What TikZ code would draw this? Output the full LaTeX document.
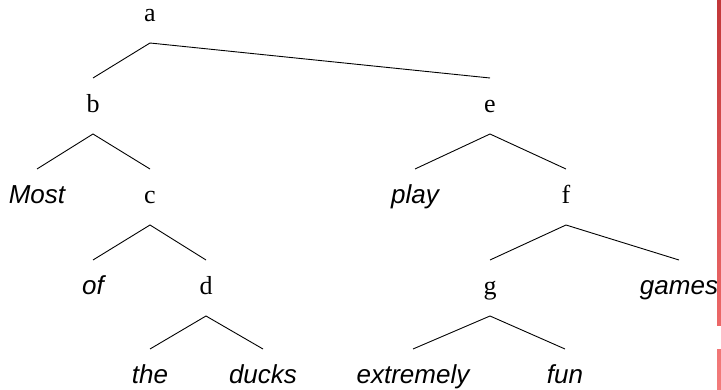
\documentclass[tikz,border=0pt]{standalone}
\usepackage{fontspec}
\setmainfont{Liberation Serif}
\newfontfamily\leaffont{Liberation Sans}
\usetikzlibrary{calc}
\tikzset{
  inner/.style={inner sep=0pt, anchor=base, font=\fontsize{26}{30}\selectfont},
  leaf/.style={inner sep=0pt, anchor=base, font=\fontsize{26}{30}\selectfont\leaffont\itshape},
  branch/.style={line width=0.9pt, black}
}
\definecolor{bartop}{RGB}{194,55,57}
\definecolor{barmid}{RGB}{236,104,104}
\definecolor{barlow}{RGB}{241,118,118}
\definecolor{barend}{RGB}{243,124,124}
\begin{document}
\begin{tikzpicture}[x=1pt,y=-1pt]
\useasboundingbox[fill=white] (0,0) rectangle (721,390);
% internal nodes
\node[inner] (a) at (150,22) {a};
\node[inner] (b) at (93,113) {b};
\node[inner] (e) at (490,113) {e};
\node[inner] (c) at (150,204) {c};
\node[inner] (f) at (566,204) {f};
\node[inner] (d) at (206,295) {d};
\node[inner] (g) at (490,295) {g};
% leaves
\node[leaf] (most) at (37,204) {Most};
\node[leaf] (play) at (415,204) {play};
\node[leaf] (of) at (93,295) {of};
\node[leaf] (games) at (679,295) {games};
\node[leaf] (the) at (150,384) {the};
\node[leaf] (ducks) at (263,384) {ducks};
\node[leaf] (extremely) at (413,384) {extremely};
\node[leaf] (fun) at (565,384) {fun};
% branches
\foreach \p/\l/\r in {a/b/e, b/most/c, c/of/d, d/the/ducks, e/play/f, f/g/games, g/extremely/fun}{
  \draw[branch] ($(\l.base)+(0,-35)$) -- ($(\p.base)+(0,21)$) -- ($(\r.base)+(0,-35)$);
}
% red bar at the right edge
\shade[top color=bartop, bottom color=barmid] (717,0) rectangle (721,326);
\shade[top color=barlow, bottom color=barend] (717,350) rectangle (721,390);
\end{tikzpicture}
\end{document}
